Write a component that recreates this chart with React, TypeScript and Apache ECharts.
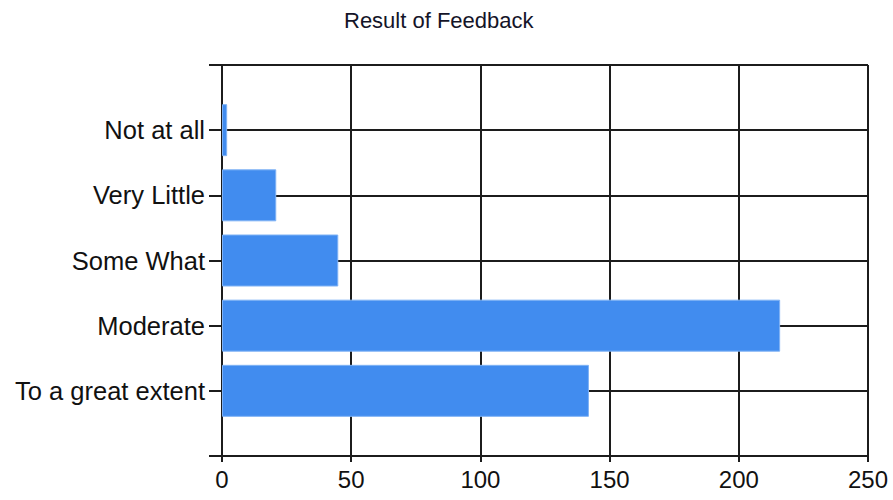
import React, { useEffect, useRef } from "react";
import * as echarts from "echarts";

const title = "Result of Feedback";
const categories = ["", "To a great extent", "Moderate", "Some What", "Very Little", "Not at all", ""];
const counts: (number | string)[] = ["-", 142, 216, 45, 21, 2, "-"];
const xMin = 0;
const xMax = 250;
const xStep = 50;

export default function App() {
  const ref = useRef<HTMLDivElement>(null);
  useEffect(() => {
    document.body.style.margin = "0";
    if (!ref.current) return;
    const chart = echarts.init(ref.current, undefined, { renderer: "svg" });
    const font = "'Liberation Sans', Arial, sans-serif";
    const lineColor = "#1c1c1c";
    chart.setOption({
      animation: false,
      backgroundColor: "#ffffff",
      title: {
        text: title,
        left: 339,
        top: 4,
        textStyle: { fontFamily: font, fontSize: 22, fontWeight: "normal", color: "#141428" },
      },
      grid: { left: 222, right: 25, top: 65, bottom: 44, containLabel: false },
      xAxis: {
        type: "value",
        min: xMin,
        max: xMax,
        interval: xStep,
        axisLine: { show: true, lineStyle: { color: lineColor, width: 2 } },
        axisTick: { show: true, length: 6, lineStyle: { color: lineColor, width: 2 } },
        axisLabel: { margin: 11, fontFamily: font, fontSize: 24, color: "#111" },
        splitLine: { show: true, lineStyle: { color: lineColor, width: 2 } },
      },
      yAxis: {
        type: "category",
        data: categories,
        boundaryGap: false,
        axisLine: { show: true, lineStyle: { color: lineColor, width: 2 } },
        axisTick: { show: true, length: 13, interval: 0, lineStyle: { color: lineColor, width: 2 } },
        axisLabel: { margin: 17, interval: 0, fontFamily: font, fontSize: 25.5, color: "#111" },
        splitLine: { show: true, interval: 0, lineStyle: { color: lineColor, width: 2 } },
      },
      series: [
        {
          type: "bar",
          data: counts,
          barWidth: 52,
          itemStyle: { color: "#418CEF", borderColor: "#7FB2F5", borderWidth: 1 },
        },
      ],
    });
    return () => chart.dispose();
  }, []);
  return <div ref={ref} style={{ width: 893, height: 500 }} />;
}
